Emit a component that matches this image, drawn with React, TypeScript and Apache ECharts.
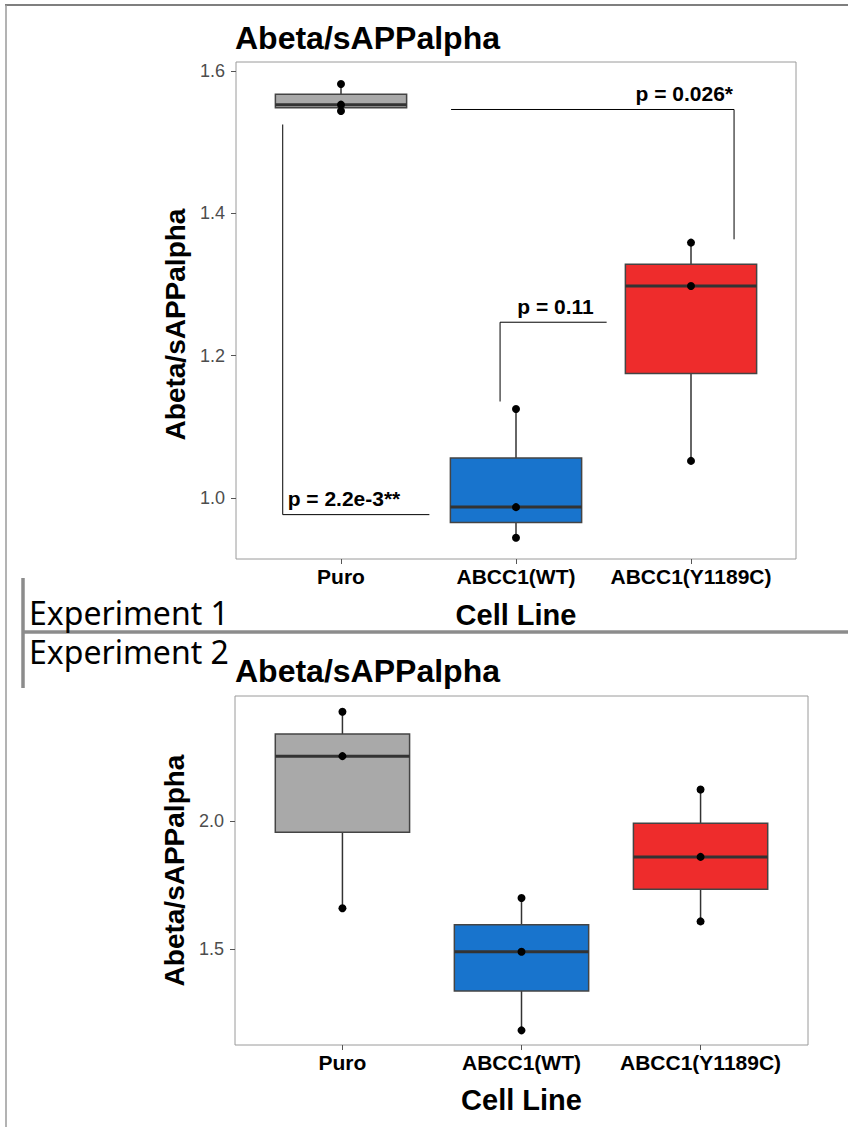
import React, { useEffect, useRef } from 'react';
import * as echarts from 'echarts';

// ---------- data ----------
const categories = ['Puro', 'ABCC1(WT)', 'ABCC1(Y1189C)'];
const boxColors = ['#A9A9A9', '#1874CD', '#EE2C2C'];

// Experiment 1 (three replicates per cell line)
const exp1Puro = [1.582, 1.553, 1.544];
const exp1WT = [1.125, 0.987, 0.944];
const exp1Y1189C = [1.359, 1.298, 1.052];

// Experiment 2
const exp2Puro = [2.425, 2.252, 1.66];
const exp2WT = [1.7, 1.491, 1.185];
const exp2Y1189C = [2.122, 1.86, 1.609];

// axis ranges / ticks
const exp1YRange = [0.914, 1.613];
const exp1YTicks = [1.0, 1.2, 1.4, 1.6];
const exp2YRange = [1.128, 2.486];
const exp2YTicks = [1.5, 2.0];
const xTicks = [1, 2, 3];

// significance brackets for experiment 1
const bracketLabels = ['p = 0.026*', 'p = 0.11', 'p = 2.2e-3**'];
const bracketPaths = [
  [[1.629, 1.5462], [3.246, 1.5462], [3.246, 1.3636]],
  [[1.909, 1.1355], [1.909, 1.247], [2.518, 1.247]],
  [[0.667, 1.5251], [0.667, 0.9764], [1.505, 0.9764]],
];
const bracketLabelPos = [[3.24, 1.5687], [2.226, 1.269], [0.695, 0.999]];
const bracketLabelAlign = ['right', 'center', 'left'];

// ---------- helpers ----------
const FONT = '"Liberation Sans", Arial, Helvetica, sans-serif';

function quantile(sorted: number[], p: number) {
  const h = (sorted.length - 1) * p;
  const lo = Math.floor(h);
  const hi = Math.ceil(h);
  return sorted[lo] + (h - lo) * (sorted[hi] - sorted[lo]);
}
function boxStats(vals: number[]) {
  const s = [...vals].sort((a, b) => a - b);
  return [s[0], quantile(s, 0.25), quantile(s, 0.5), quantile(s, 0.75), s[s.length - 1]];
}

function boxSeries(groups: number[][], axisIndex: number) {
  return {
    type: 'custom',
    xAxisIndex: axisIndex,
    yAxisIndex: axisIndex,
    z: 2,
    encode: { x: 0, y: [1, 2, 3, 4, 5] },
    data: groups.map((g, i) => [i + 1, ...boxStats(g)]),
    renderItem: (params: any, api: any) => {
      const x = api.value(0);
      const lo = api.value(1), q1 = api.value(2), med = api.value(3), q3 = api.value(4), hi = api.value(5);
      const half = 0.375;
      const pLo = api.coord([x, lo]);
      const pHi = api.coord([x, hi]);
      const pBL = api.coord([x - half, q1]);
      const pTR = api.coord([x + half, q3]);
      const pML = api.coord([x - half, med]);
      const pMR = api.coord([x + half, med]);
      return {
        type: 'group',
        children: [
          { type: 'line', shape: { x1: pLo[0], y1: pLo[1], x2: pHi[0], y2: pHi[1] }, style: { stroke: '#333333', lineWidth: 1.5 } },
          {
            type: 'rect',
            shape: { x: pBL[0], y: pTR[1], width: pTR[0] - pBL[0], height: pBL[1] - pTR[1] },
            style: { fill: boxColors[params.dataIndex], stroke: '#444444', lineWidth: 1.5 },
          },
          { type: 'line', shape: { x1: pML[0], y1: pML[1], x2: pMR[0], y2: pMR[1] }, style: { stroke: '#333333', lineWidth: 3 } },
        ],
      };
    },
  };
}

function pointSeries(groups: number[][], axisIndex: number) {
  const data: number[][] = [];
  groups.forEach((g, i) => g.forEach((v) => data.push([i + 1, v])));
  return {
    type: 'scatter',
    xAxisIndex: axisIndex,
    yAxisIndex: axisIndex,
    z: 3,
    symbol: 'circle',
    symbolSize: 8,
    itemStyle: { color: '#000000', opacity: 1 },
    data,
  };
}

function xAxisDef(gridIndex: number, nameGap: number) {
  return {
    type: 'value',
    gridIndex,
    min: 0.4,
    max: 3.6,
    axisLine: { show: false },
    splitLine: { show: false },
    axisTick: { show: true, customValues: xTicks, length: 5, lineStyle: { color: '#555555' } },
    axisLabel: {
      customValues: xTicks,
      formatter: (v: number) => categories[Math.round(v) - 1] || '',
      fontFamily: FONT,
      fontWeight: 'bold',
      fontSize: 21,
      color: '#000000',
      margin: 7,
    },
    name: 'Cell Line',
    nameLocation: 'middle',
    nameGap,
    nameTextStyle: { fontFamily: FONT, fontWeight: 'bold', fontSize: 29, color: '#000000' },
  };
}

function yAxisDef(gridIndex: number, range: number[], ticks: number[], nameGap: number, shift: number) {
  return {
    type: 'value',
    gridIndex,
    min: range[0],
    max: range[1],
    axisLine: { show: false },
    splitLine: { show: false },
    axisTick: { show: true, customValues: ticks, length: 5, lineStyle: { color: '#555555' } },
    axisLabel: {
      customValues: ticks,
      formatter: (v: number) => v.toFixed(1),
      fontFamily: FONT,
      fontSize: 18,
      color: '#4D4D4D',
      margin: 11,
    },
    name: 'Abeta/sAPPalpha',
    nameLocation: 'middle',
    nameGap,
    nameTextStyle: {
      fontFamily: FONT,
      fontWeight: 'bold',
      fontSize: 28,
      color: '#000000',
      padding: shift > 0 ? [0, shift, 0, 0] : [0, 0, 0, -shift],
    },
  };
}

export default function App() {
  const ref = useRef<HTMLDivElement>(null);

  useEffect(() => {
    document.body.style.margin = '0';
    if (!ref.current) return;
    const chart = echarts.init(ref.current, null, { renderer: 'svg' });

    const bracketSeries = {
      type: 'custom',
      xAxisIndex: 0,
      yAxisIndex: 0,
      z: 4,
      clip: false,
      encode: { x: 0, y: 1 },
      data: bracketPaths.map((p) => [p[0][0], p[0][1]]),
      renderItem: (params: any, api: any) => {
        const i = params.dataIndex;
        const pts = bracketPaths[i].map((p) => api.coord(p));
        const lp = api.coord(bracketLabelPos[i]);
        return {
          type: 'group',
          children: [
            { type: 'polyline', shape: { points: pts }, style: { stroke: '#000000', lineWidth: 1, fill: null } },
            {
              type: 'text',
              style: {
                text: bracketLabels[i],
                x: lp[0],
                y: lp[1],
                align: bracketLabelAlign[i],
                verticalAlign: 'middle',
                fontFamily: FONT,
                fontWeight: 'bold',
                fontSize: 21,
                fill: '#000000',
              },
            },
          ],
        };
      },
    };

    const lineColor = '#8C8C8C';
    const option: any = {
      animation: false,
      backgroundColor: '#ffffff',
      grid: [
        { left: 236, top: 62, width: 560, height: 497, show: true, borderColor: '#9A9A9A', borderWidth: 1, containLabel: false },
        { left: 235, top: 696, width: 573, height: 349, show: true, borderColor: '#9A9A9A', borderWidth: 1, containLabel: false },
      ],
      xAxis: [xAxisDef(0, 41), xAxisDef(1, 40)],
      yAxis: [
        yAxisDef(0, exp1YRange, exp1YTicks, 42, 28),
        yAxisDef(1, exp2YRange, exp2YTicks, 44, 0),
      ],
      series: [
        boxSeries([exp1Puro, exp1WT, exp1Y1189C], 0),
        pointSeries([exp1Puro, exp1WT, exp1Y1189C], 0),
        bracketSeries,
        boxSeries([exp2Puro, exp2WT, exp2Y1189C], 1),
        pointSeries([exp2Puro, exp2WT, exp2Y1189C], 1),
      ],
      graphic: [
        { type: 'line', shape: { x1: 5, y1: 5, x2: 848, y2: 5 }, style: { stroke: '#7F7F7F', lineWidth: 2 } },
        { type: 'line', shape: { x1: 6, y1: 5, x2: 6, y2: 1127 }, style: { stroke: '#9A9A9A', lineWidth: 1.5 } },
        { type: 'line', shape: { x1: 22, y1: 632, x2: 848, y2: 632 }, style: { stroke: lineColor, lineWidth: 3.5 } },
        { type: 'line', shape: { x1: 23, y1: 578, x2: 23, y2: 688 }, style: { stroke: lineColor, lineWidth: 3.5 } },
        {
          type: 'text', x: 235, y: 38,
          style: { text: 'Abeta/sAPPalpha', fontFamily: FONT, fontWeight: 'bold', fontSize: 32, fill: '#000000', verticalAlign: 'middle', align: 'left' },
        },
        {
          type: 'text', x: 235, y: 671,
          style: { text: 'Abeta/sAPPalpha', fontFamily: FONT, fontWeight: 'bold', fontSize: 32, fill: '#000000', verticalAlign: 'middle', align: 'left' },
        },
        {
          type: 'text', x: 29, y: 612,
          style: { text: 'Experiment 1', fontFamily: '"Noto Sans", "Open Sans", sans-serif', fontSize: 32, fill: '#000000', verticalAlign: 'middle', align: 'left' },
        },
        {
          type: 'text', x: 29, y: 651,
          style: { text: 'Experiment 2', fontFamily: '"Noto Sans", "Open Sans", sans-serif', fontSize: 32, fill: '#000000', verticalAlign: 'middle', align: 'left' },
        },
      ],
    };
    chart.setOption(option);
    return () => chart.dispose();
  }, []);

  return <div ref={ref} style={{ width: 848, height: 1127 }} />;
}
